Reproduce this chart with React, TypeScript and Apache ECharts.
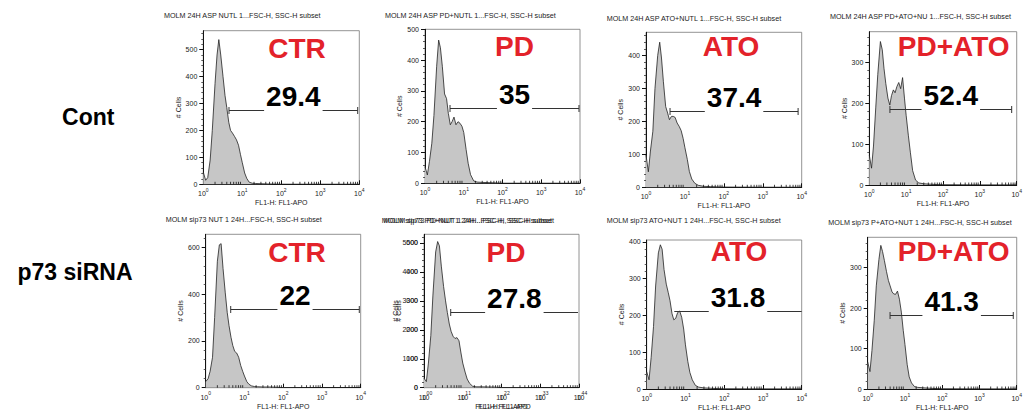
import { useEffect, useRef } from "react";
import * as echarts from "echarts";

// FL1-APO channel values (log scale) at which the histogram counts are sampled
const FL1_BINS = [1, 1.15, 1.3, 1.5, 1.7, 2.0, 2.25, 2.5, 2.8, 3.2, 3.6, 4.0, 4.5, 5.0, 5.6, 6.3, 7.1, 8.0, 9.0, 10, 11.5, 13, 15, 18, 22, 30, 45, 70, 100, 1000, 10000];

// # Cells per bin, control row
const CONT_CTR = [45, 15, 25, 90, 200, 374, 480, 537, 480, 400, 330, 285, 230, 200, 190, 178, 165, 145, 110, 80, 42, 22, 8, 4, 3, 2, 1, 0.5, 0, 0, 0];
const CONT_PD = [54, 27, 70, 130, 220, 380, 465, 440, 380, 290, 275, 227, 190, 200, 215, 190, 200, 195, 185, 165, 110, 65, 28, 8, 4, 3, 2, 1, 0, 0, 0];
const CONT_ATO = [98, 47, 110, 170, 300, 400, 440, 392, 320, 245, 225, 205, 215, 215, 212, 195, 185, 172, 148, 120, 85, 48, 25, 12, 6, 3, 2, 1, 0.5, 0, 0];
const CONT_PDATO = [73, 41, 95, 190, 270, 350, 330, 285, 248, 212, 195, 218, 232, 225, 240, 250, 235, 262, 212, 170, 120, 80, 35, 12, 5, 3, 2, 1, 0.5, 0, 0];

// # Cells per bin, p73 siRNA row
const SI_CTR = [26, 38, 70, 130, 300, 540, 610, 615, 510, 405, 320, 265, 215, 180, 155, 148, 130, 95, 70, 50, 26, 15, 8, 5, 4, 3, 3, 2, 0.5, 0, 0];
const SI_PD = [330, 210, 850, 1800, 3200, 4690, 5050, 4900, 4200, 3500, 3000, 2600, 2200, 1950, 1780, 1700, 1730, 1620, 1200, 850, 540, 300, 150, 50, 30, 30, 25, 20, 5, 0, 0];
const SI_ATO = [47, 25, 85, 170, 280, 370, 392, 380, 325, 285, 262, 240, 205, 188, 192, 208, 212, 195, 163, 120, 75, 45, 25, 10, 5, 3, 2, 1, 0.5, 0, 0];
const SI_PDATO = [67, 43, 95, 170, 255, 320, 355, 340, 318, 290, 268, 255, 240, 235, 234, 242, 222, 190, 145, 110, 60, 30, 15, 6, 4, 3, 2, 1, 0.5, 0, 0];

// Gate [start FL1, end FL1, drawn at # Cells] and the percentage inside it
const GATES = [
  [4.56, 9100, 275], [4.42, 9420, 243], [4.14, 8080, 231], [3.63, 7300, 185],
  [4.42, 9200, 335], [4.89, 9420, 2600], [5.15, 10000, 212], [3.98, 8080, 184],
];
const GATE_PCT = [29.4, 35, 37.4, 52.4, 22, 27.8, 31.8, 41.3];

const TREATMENTS = ["CTR", "PD", "ATO", "PD+ATO", "CTR", "PD", "ATO", "PD+ATO"];
const ROW_LABELS = ["Cont", "p73 siRNA"];
const SAMPLE_NAMES = [
  "MOLM 24H ASP NUTL 1...FSC-H, SSC-H subset",
  "MOLM 24H ASP PD+NUTL 1...FSC-H, SSC-H subset",
  "MOLM 24H ASP ATO+NUTL 1...FSC-H, SSC-H subset",
  "MOLM 24H ASP PD+ATO+NU 1...FSC-H, SSC-H subset",
  "MOLM sip73 NUT 1 24H...FSC-H, SSC-H subset",
  "MOLM sip73 PD+NUT 1 24H...FSC-H, SSC-H subset",
  "MOLM sip73 ATO+NUT 1 24H...FSC-H, SSC-H subset",
  "MOLM sip73 P+ATO+NUT 1 24H...FSC-H, SSC-H subset",
];

// y-axis range and tick labels for each histogram
const Y_MAX = [570, 500, 470, 374, 655, 5300, 405, 375];
const Y_STEP = [100, 100, 100, 100, 200, 1000, 100, 100];
const Y_TICKS = [
  [0, 100, 200, 300, 400, 500],
  [0, 100, 200, 300, 400, 500],
  [0, 100, 200, 300, 400],
  [0, 100, 200, 300],
  [0, 200, 400, 600],
  [0, 1000, 2000, 3000, 4000, 5000],
  [0, 100, 200, 300, 400],
  [0, 100, 200, 300],
];
// overprinted scale seen on the siRNA PD panel
const GHOST_Y_TICKS = [0, 100, 200, 300, 400, 500];
const X_LOG_MAX = 10000;

const SERIES_COUNTS = [CONT_CTR, CONT_PD, CONT_ATO, CONT_PDATO, SI_CTR, SI_PD, SI_ATO, SI_PDATO];

// ---- layout (pixels) ----
const BOXES = [
  [203.3, 30.7, 156, 153.6],
  [425, 29.3, 155, 154],
  [646, 32.3, 155.7, 155],
  [869.3, 31.7, 155, 153.3],
  [205.7, 234.3, 155, 153.4],
  [424, 234.3, 155, 153.4],
  [646.7, 240, 155, 149],
  [867.7, 237.3, 155.3, 153.7],
];
const GATE_ENDS = [[1, 1], [1, 1], [1, 1], [1, 1], [1, 1], [1, 0], [0, 0], [1, 1]];
const TITLE_POS = [[164, 15.7], [385, 15], [606.7, 18.3], [830, 16.7], [165.7, 219], [381.7, 220], [606.7, 220.7], [828.3, 222.3]];
const TREAT_POS = [[297, 48.3], [514.5, 46.7], [731, 46.7], [953.7, 46.7], [297, 252.8], [506, 252.8], [739, 251.7], [953.7, 251.7]];
const ROW_POS = [[88.3, 116.7], [75, 271.7]];

const FONT = '"Liberation Sans", Arial, Helvetica, sans-serif';
const INK = "#222";
const RED = "#e3222a";

function logLabel(v: number) {
  return `{b|10}{e|${Math.round(Math.log10(v))}}`;
}

function buildOption() {
  const grid: any[] = [];
  const xAxis: any[] = [];
  const yAxis: any[] = [];
  const series: any[] = [];
  const graphic: any[] = [];

  const minorX: number[][] = [];
  for (let d = 1; d < X_LOG_MAX; d *= 10) {
    for (let m = 2; m <= 9; m++) minorX.push([m * d, 0]);
  }

  const xAxisBase = (gridIndex: number, showLine: boolean) => ({
    type: "log",
    logBase: 10,
    gridIndex,
    min: 1,
    max: X_LOG_MAX,
    name: "FL1-H: FL1-APO",
    nameLocation: "middle",
    nameGap: 15,
    nameTextStyle: { fontSize: 7, fontFamily: FONT, color: INK },
    axisLine: { show: showLine, lineStyle: { color: "#111", width: 1 } },
    axisTick: { show: showLine, inside: true, length: 4, lineStyle: { color: "#111", width: 1 } },
    splitLine: { show: false },
    axisLabel: {
      margin: 3,
      color: INK,
      formatter: logLabel,
      rich: {
        b: { fontSize: 7, fontFamily: FONT, color: INK, lineHeight: 10, verticalAlign: "bottom" },
        e: { fontSize: 5, fontFamily: FONT, color: INK, lineHeight: 10, verticalAlign: "top" },
      },
    },
  });

  const yAxisBase = (gridIndex: number, max: number, step: number, ticks: number[], showLine: boolean, labelMargin: number) => ({
    type: "value",
    gridIndex,
    min: 0,
    max,
    interval: step,
    name: "# Cells",
    nameLocation: "middle",
    nameGap: 21,
    nameRotate: 90,
    nameTextStyle: { fontSize: 7, fontFamily: FONT, color: INK },
    axisLine: { show: showLine, lineStyle: { color: "#111", width: 1 } },
    axisTick: { show: showLine, length: 4, customValues: ticks, lineStyle: { color: "#111", width: 1 } },
    minorTick: { show: showLine, splitNumber: 5, length: 2, lineStyle: { color: "#333", width: 0.8 } },
    splitLine: { show: false },
    minorSplitLine: { show: false },
    axisLabel: {
      customValues: ticks,
      margin: labelMargin,
      fontSize: 7,
      fontFamily: FONT,
      color: INK,
      formatter: (v: number) => String(v),
    },
  });

  BOXES.forEach((b, i) => {
    grid.push({
      left: b[0], top: b[1], width: b[2], height: b[3],
      show: true, borderColor: "#777", borderWidth: 0.8, backgroundColor: "transparent",
      containLabel: false,
    });
    xAxis.push(xAxisBase(i, true));
    yAxis.push(yAxisBase(i, Y_MAX[i], Y_STEP[i], Y_TICKS[i], true, 6));

    series.push({
      type: "line",
      xAxisIndex: i,
      yAxisIndex: i,
      data: FL1_BINS.map((x, k) => [x, SERIES_COUNTS[i][k]]),
      showSymbol: false,
      silent: true,
      lineStyle: { color: INK, width: 0.8 },
      areaStyle: { color: "#c6c6c6", opacity: 1 },
      z: 2,
    });

    series.push({
      type: "custom",
      xAxisIndex: i,
      yAxisIndex: i,
      silent: true,
      data: minorX,
      z: 3,
      renderItem: (_p: any, api: any) => {
        const p = api.coord([api.value(0), 0]);
        return {
          type: "line",
          shape: { x1: p[0], y1: p[1], x2: p[0], y2: p[1] - 2.5 },
          style: { stroke: "#111", lineWidth: 0.8 },
        };
      },
    });

    const ends = GATE_ENDS[i];
    series.push({
      type: "custom",
      xAxisIndex: i,
      yAxisIndex: i,
      silent: true,
      encode: { x: [0, 1], y: 2 },
      data: [[GATES[i][0], GATES[i][1], GATES[i][2], GATE_PCT[i]]],
      z: 5,
      renderItem: (_p: any, api: any) => {
        const a = api.coord([api.value(0), api.value(2)]);
        const c = api.coord([api.value(1), api.value(2)]);
        const y = Math.round(a[1]) + 0.5;
        const st = { stroke: "#333", lineWidth: 1 };
        const children: any[] = [
          { type: "line", shape: { x1: a[0], y1: y, x2: c[0], y2: y }, style: st },
        ];
        if (ends[0]) children.push({ type: "line", shape: { x1: a[0], y1: y - 3.5, x2: a[0], y2: y + 3.5 }, style: st });
        if (ends[1]) children.push({ type: "line", shape: { x1: c[0], y1: y - 3.5, x2: c[0], y2: y + 3.5 }, style: st });
        children.push({
          type: "text",
          x: (a[0] + c[0]) / 2,
          y: y + 4,
          style: {
            text: String(api.value(3)),
            font: `bold 28px ${FONT}`,
            fill: "#000",
            align: "center",
            verticalAlign: "bottom",
            backgroundColor: "#fff",
            padding: [0, 2, 4, 2],
          },
        });
        return { type: "group", children };
      },
    });

    graphic.push({
      type: "text",
      x: TITLE_POS[i][0],
      y: TITLE_POS[i][1],
      silent: true,
      style: { text: SAMPLE_NAMES[i], font: `7.2px ${FONT}`, fill: INK, align: "left", verticalAlign: "middle" },
    });
    graphic.push({
      type: "text",
      x: TREAT_POS[i][0],
      y: TREAT_POS[i][1],
      silent: true,
      z: 10,
      style: { text: TREATMENTS[i], font: `bold 28px ${FONT}`, fill: RED, align: "center", verticalAlign: "middle" },
    });
  });

  // overprinted copy of the siRNA PD panel's scale and heading
  const g = BOXES[5];
  grid.push({ left: g[0] + 3, top: g[1], width: g[2], height: g[3], show: false, containLabel: false });
  xAxis.push(xAxisBase(8, false));
  yAxis.push(yAxisBase(8, 530, 100, GHOST_Y_TICKS, false, 9));
  series.push({ type: "line", xAxisIndex: 8, yAxisIndex: 8, data: [], silent: true });
  graphic.push({
    type: "text",
    x: TITLE_POS[5][0] + 2,
    y: TITLE_POS[5][1],
    silent: true,
    style: { text: SAMPLE_NAMES[5], font: `7.2px ${FONT}`, fill: INK, align: "left", verticalAlign: "middle" },
  });

  ROW_LABELS.forEach((t, r) => {
    graphic.push({
      type: "text",
      x: ROW_POS[r][0],
      y: ROW_POS[r][1],
      silent: true,
      style: { text: t, font: `bold 23px ${FONT}`, fill: "#000", align: "center", verticalAlign: "middle" },
    });
  });

  return {
    animation: false,
    backgroundColor: "#fff",
    grid,
    xAxis,
    yAxis,
    series,
    graphic,
  };
}

export default function App() {
  const ref = useRef<HTMLDivElement>(null);
  useEffect(() => {
    if (!ref.current) return;
    const chart = echarts.init(ref.current, null, { renderer: "svg" });
    chart.setOption(buildOption() as any);
    return () => chart.dispose();
  }, []);
  return (
    <div
      ref={ref}
      style={{ position: "fixed", left: 0, top: 0, width: 1025, height: 412, background: "#fff" }}
    />
  );
}
